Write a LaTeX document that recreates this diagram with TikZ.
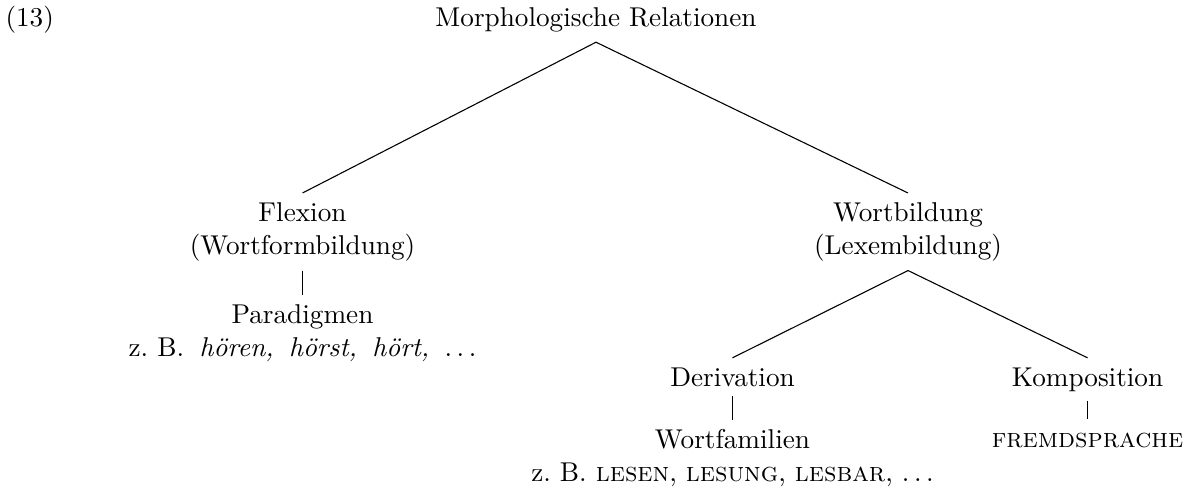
\documentclass[tikz,border=0pt]{standalone}
\begin{document}
\begin{tikzpicture}[x=0.3676pt,y=-0.3676pt,
  lab/.style={inner sep=3.33pt, align=center},
  branch/.style={line width=0.4pt}]
\useasboundingbox (0,0) rectangle (1192,490);
\node[anchor=base west, inner sep=0pt] (ex) at (5,27) {(13)};
\node[lab, anchor=base] (root) at (596,27) {Morphologische Relationen};
\node[lab, anchor=north] (flex) at (302.5,193) {Flexion\\(Wortformbildung)};
\node[lab, anchor=north] (wb) at (908,193) {Wortbildung\\(Lexembildung)};
\node[lab, anchor=north] (para) at (302.5,295) {Paradigmen\\z.~B.{\spaceskip=5.7pt{} \textit{hören, hörst, hört,} $\ldots$}};
\node[lab, anchor=base] (der) at (732.5,386) {Derivation};
\node[lab, anchor=base] (komp) at (1087.5,386) {Komposition};
\node[lab, anchor=north] (wf) at (732.5,420) {Wortfamilien\\z.~B. \textsc{lesen}, \textsc{lesung}, \textsc{lesbar}, $\ldots$};
\node[lab, anchor=base, text height=6.94pt] (fremd) at (1087.5,447) {\textsc{fremdsprache}};
\draw[branch] (root.south) -- (flex.north);
\draw[branch] (root.south) -- (wb.north);
\draw[branch] (flex.south) -- (para.north);
\draw[branch] (wb.south) -- (der.north);
\draw[branch] (wb.south) -- (komp.north);
\draw[branch] (der.south) -- (wf.north);
\draw[branch] (komp.south) -- (fremd.north);
\end{tikzpicture}
\end{document}
